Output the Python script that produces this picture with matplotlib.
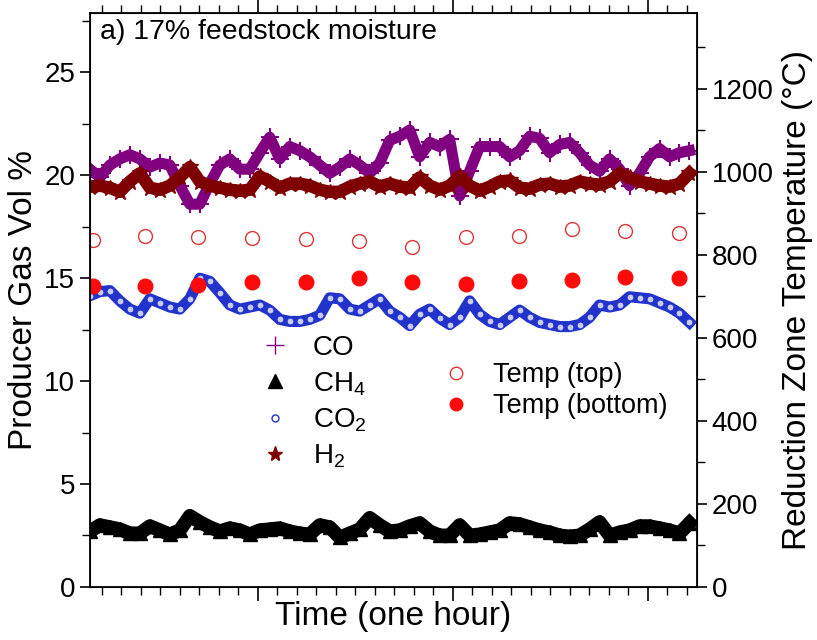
import numpy as np
import matplotlib
matplotlib.use("Agg")
import matplotlib.pyplot as plt
from matplotlib.lines import Line2D
from matplotlib.ticker import MultipleLocator

plt.rcParams['font.family'] = ['Liberation Sans', 'DejaVu Sans']
plt.rcParams['mathtext.default'] = 'regular'

# gas composition (vol %), sampled evenly over the hour
co = [20.3, 19.9, 20.5, 20.8, 21.0, 20.8, 20.4, 20.6, 20.5, 19.5,
      18.6, 18.6, 19.6, 20.5, 20.8, 20.3, 20.3, 21.1, 21.85, 20.8,
      21.4, 21.2, 20.9, 20.5, 20.1, 20.4, 20.8, 20.5, 20.1, 20.6,
      21.7, 21.9, 22.2, 20.9, 21.6, 21.4, 21.75, 19.0, 20.2, 21.4,
      21.4, 21.4, 20.9, 21.2, 21.9, 21.8, 21.1, 21.5, 21.6, 21.1,
      20.5, 20.2, 20.8, 20.3, 19.5, 20.1, 20.9, 21.3, 20.9, 21.1, 21.2]
h2 = [19.45, 19.5, 19.4, 19.2, 19.7, 20.1, 19.4, 19.3, 19.5, 19.9,
      20.4, 19.7, 19.5, 19.4, 19.3, 19.25, 19.3, 19.95, 19.7, 19.4,
      19.6, 19.6, 19.5, 19.3, 19.2, 19.2, 19.45, 19.6, 19.7, 19.45,
      19.6, 19.45, 19.4, 19.9, 19.5, 19.3, 19.5, 19.95, 19.5, 19.25,
      19.45, 19.7, 19.75, 19.4, 19.35, 19.55, 19.6, 19.45, 19.5, 19.7,
      19.6, 19.55, 19.7, 20.1, 19.9, 19.7, 19.6, 19.5, 19.45, 19.6, 20.1]
co2 = [14.15, 14.35, 14.4, 13.9, 13.5, 13.3, 14.0, 13.8, 13.6, 13.5,
       14.0, 15.0, 14.85, 14.3, 13.7, 13.5, 13.6, 13.7, 13.45, 13.0,
       12.9, 12.9, 13.0, 13.2, 14.05, 14.0, 13.5, 13.4, 13.7, 14.0,
       13.4, 13.1, 12.7, 13.25, 13.5, 13.05, 12.75, 13.1, 13.9, 13.25,
       12.9, 12.75, 13.1, 13.45, 13.1, 12.85, 12.75, 12.65, 12.65, 12.75,
       13.1, 13.7, 13.6, 13.7, 14.1, 14.05, 14.0, 13.8, 13.6, 13.3, 12.85]
ch4 = [2.7, 3.0, 2.9, 2.8, 2.6, 2.6, 2.95, 2.75, 2.55, 2.75,
       3.45, 3.15, 2.9, 2.7, 2.85, 2.75, 2.55, 2.75, 2.8, 2.85,
       2.7, 2.6, 2.55, 3.0, 2.9, 2.4, 2.6, 2.8, 3.35, 3.0,
       2.7, 2.75, 2.95, 3.1, 2.7, 2.5, 2.5, 3.0, 2.5, 2.55,
       2.65, 2.75, 3.1, 3.05, 2.9, 2.75, 2.65, 2.5, 2.45, 2.5,
       2.8, 3.15, 2.5, 2.65, 2.75, 2.95, 2.95, 2.85, 2.75, 2.6, 3.1]

# reduction zone temperatures (deg C)
t_temp = [3.1, 8.5, 13.9, 19.4, 25.0, 30.4, 35.8, 41.4, 46.8, 52.2, 57.7, 63.2]
temp_top = [836, 846, 843, 841, 839, 834, 819, 843, 846, 863, 858, 853]
temp_bottom = [725, 725, 727, 735, 735, 745, 735, 730, 737, 740, 747, 745]

t_gas = np.linspace(2.8, 64.3, len(co))

fig = plt.figure(figsize=(8.17, 6.4), dpi=100)
ax = fig.add_axes([0.110, 0.083, 0.743, 0.897])
ax2 = ax.twinx()

c_co = '#800080'
c_h2 = '#7f0000'
c_co2 = '#2233cc'

ax.plot(t_gas, co, color=c_co, lw=8, zorder=2)
ax.plot(t_gas, co, ls='none', marker='+', ms=13, mew=1.5, color=c_co, zorder=2)
ax.plot(t_gas, h2, color=c_h2, lw=9, zorder=3)
ax.plot(t_gas, h2, ls='none', marker='*', ms=12, color=c_h2, zorder=3)
ax.plot(t_gas, co2, color=c_co2, lw=8, zorder=2)
ax.plot(t_gas, co2, ls='none', marker='o', ms=5, mfc='#c8ccf0', mec=c_co2, mew=0.8, zorder=2)
ax.plot(t_gas, ch4, color='black', lw=10, zorder=2)
ax.plot(t_gas, ch4, ls='none', marker='^', ms=10, color='black', zorder=2)

ax2.plot(t_temp, temp_top, ls='none', marker='o', ms=10, mfc='none', mec='#e03535', mew=1)
ax2.plot(t_temp, temp_bottom, ls='none', marker='o', ms=10.5, color='#ff0a0a')

ax.set_xlim(2.8, 65.06)
ax.set_ylim(0, 27.9)
ax2.set_ylim(0, 1383)

ax.xaxis.set_major_locator(MultipleLocator(20))
ax.xaxis.set_minor_locator(MultipleLocator(2))
ax.yaxis.set_major_locator(MultipleLocator(5))
ax.yaxis.set_minor_locator(MultipleLocator(2.5))
ax2.yaxis.set_major_locator(MultipleLocator(200))
ax2.yaxis.set_minor_locator(MultipleLocator(100))

ax.tick_params(axis='x', which='both', direction='out', top=True, labelbottom=False)
ax.tick_params(axis='x', which='major', length=10, width=1.2)
ax.tick_params(axis='x', which='minor', length=6, width=1)
ax.tick_params(axis='y', which='major', direction='out', length=7, width=1.2, labelsize=20)
ax.tick_params(axis='y', which='minor', direction='out', length=6, width=1)
ax2.tick_params(axis='y', which='major', direction='out', length=7, width=1.2, labelsize=20)
ax2.tick_params(axis='y', which='minor', direction='out', length=6, width=1)
for sp in ax.spines.values():
    sp.set_linewidth(1.3)

ax.set_xlabel('Time (one hour)', fontsize=24, labelpad=0)
ax.set_ylabel('Producer Gas Vol %', fontsize=24, labelpad=4)
ax2.set_ylabel('Reduction Zone Temperature (\u00b0C)', fontsize=24, labelpad=6)

ax.text(0.017, 0.99, 'a) 17% feedstock moisture', transform=ax.transAxes,
        fontsize=20.5, va='top', ha='left')

gas_handles = [
    Line2D([], [], ls='none', marker='+', ms=13, mew=1, color=c_co),
    Line2D([], [], ls='none', marker='^', ms=10, color='black'),
    Line2D([], [], ls='none', marker='o', ms=5, mfc='white', mec=c_co2),
    Line2D([], [], ls='none', marker='*', ms=11, color=c_h2),
]
gas_labels = ['CO', 'CH$_4$', 'CO$_2$', 'H$_2$']
leg1 = ax2.legend(gas_handles, gas_labels, loc='upper left', bbox_to_anchor=(0.23, 0.482),
                  frameon=False, fontsize=20, labelspacing=0.32, handletextpad=0.6,
                  handlelength=1.5)
ax2.add_artist(leg1)
temp_handles = [
    Line2D([], [], ls='none', marker='o', ms=9, mfc='none', mec='#e03535'),
    Line2D([], [], ls='none', marker='o', ms=9, color='#ff0a0a'),
]
ax2.legend(temp_handles, ['Temp (top)', 'Temp (bottom)'], loc='upper left',
           bbox_to_anchor=(0.53, 0.434), frameon=False, fontsize=19.5,
           labelspacing=0.18, handletextpad=0.6, handlelength=1.5)

fig.savefig('out.png', dpi=100)
